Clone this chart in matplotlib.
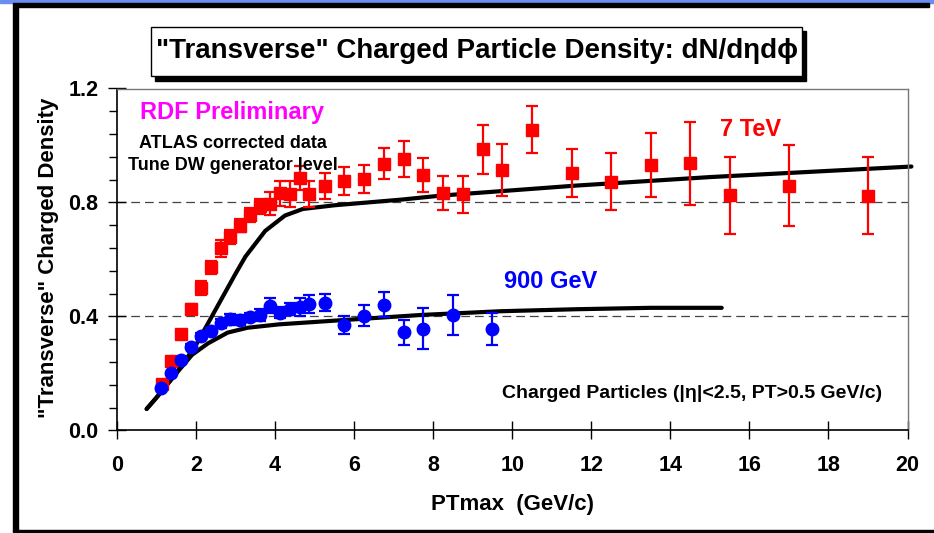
import numpy as np
import matplotlib
matplotlib.use("Agg")
import matplotlib.pyplot as plt
from matplotlib.patches import Rectangle
from matplotlib.ticker import MultipleLocator, FormatStrFormatter

plt.rcParams['font.family'] = ['Liberation Sans', 'DejaVu Sans']
plt.rcParams['font.weight'] = 'bold'

# 7 TeV data (red squares)
x_7tev = [1.13, 1.37, 1.62, 1.87, 2.12, 2.37, 2.62, 2.87, 3.12, 3.37, 3.62, 3.87,
          4.12, 4.37, 4.62, 4.87, 5.25, 5.75, 6.25, 6.75, 7.25, 7.75, 8.25, 8.75,
          9.25, 9.75, 10.5, 11.5, 12.5, 13.5, 14.5, 15.5, 17.0, 19.0]
y_7tev = [0.162, 0.245, 0.338, 0.425, 0.499, 0.573, 0.639, 0.678, 0.718, 0.756, 0.786, 0.796,
          0.832, 0.830, 0.886, 0.829, 0.859, 0.875, 0.883, 0.936, 0.953, 0.897, 0.833, 0.828,
          0.986, 0.914, 1.056, 0.903, 0.873, 0.931, 0.938, 0.825, 0.859, 0.824]
e_7tev = [0.010, 0.012, 0.015, 0.018, 0.025, 0.023, 0.030, 0.025, 0.023, 0.025, 0.025, 0.040,
          0.045, 0.045, 0.043, 0.045, 0.046, 0.048, 0.050, 0.054, 0.062, 0.060, 0.060, 0.064,
          0.086, 0.092, 0.083, 0.084, 0.099, 0.112, 0.146, 0.136, 0.143, 0.136]

# 900 GeV data (blue circles)
x_900 = [1.12, 1.37, 1.62, 1.87, 2.12, 2.37, 2.62, 2.87, 3.12, 3.37, 3.62, 3.87,
         4.12, 4.37, 4.62, 4.87, 5.25, 5.75, 6.25, 6.75, 7.25, 7.75, 8.5, 9.5]
y_900 = [0.147, 0.200, 0.247, 0.294, 0.330, 0.350, 0.375, 0.389, 0.387, 0.397, 0.404, 0.437,
         0.413, 0.426, 0.432, 0.444, 0.448, 0.370, 0.403, 0.441, 0.344, 0.357, 0.406, 0.356]
e_900 = [0.005, 0.006, 0.007, 0.008, 0.010, 0.010, 0.015, 0.020, 0.019, 0.015, 0.022, 0.026,
         0.020, 0.020, 0.032, 0.032, 0.030, 0.032, 0.038, 0.043, 0.044, 0.071, 0.070, 0.057]

# Tune DW curves
x_dw7 = [0.75, 1.0, 1.5, 2.0, 2.5, 3.0, 3.25, 3.75, 4.25, 4.7, 5.5, 7.2, 8.2, 11.6, 15.0, 20.1]
y_dw7 = [0.075, 0.115, 0.20, 0.30, 0.425, 0.55, 0.61, 0.70, 0.754, 0.777, 0.79, 0.81, 0.824, 0.859, 0.889, 0.926]
x_dw900 = [0.75, 1.0, 1.5, 1.9, 2.3, 2.8, 3.3, 4.1, 5.4, 7.7, 9.7, 11.6, 13.5, 15.3]
y_dw900 = [0.075, 0.115, 0.20, 0.265, 0.305, 0.343, 0.36, 0.372, 0.384, 0.405, 0.418, 0.425, 0.43, 0.43]

W, H = 934, 533
fig = plt.figure(figsize=(W / 100, H / 100), dpi=100)

def fx(px):
    return px / W

def fy(py):
    return 1 - py / H

# slide frame
fig.patches.append(Rectangle((0, fy(3)), 1, 3 / H, transform=fig.transFigure,
                             color='#6a8ef0', zorder=0))
fig.patches.append(Rectangle((fx(13), fy(7)), fx(929) - fx(13), 4 / H, transform=fig.transFigure,
                             color='black', zorder=0))
fig.patches.append(Rectangle((fx(13), fy(531)), 5 / W, fy(7) - fy(531), transform=fig.transFigure,
                             color='black', zorder=0))
fig.patches.append(Rectangle((fx(13), fy(532)), 1 - fx(13), 2 / H, transform=fig.transFigure,
                             color='black', zorder=0))

ax = fig.add_axes([fx(117), fy(430.3), fx(907.5) - fx(117), fy(88.5) - fy(430.3)])

ax.axhline(0.4, color='#444444', lw=0.9, dashes=(7, 4), zorder=1)
ax.axhline(0.8, color='#444444', lw=0.9, dashes=(7, 4), zorder=1)

ax.plot(x_dw7, y_dw7, color='black', lw=3, solid_capstyle='round', zorder=2, clip_on=False)
ax.plot(x_dw900, y_dw900, color='black', lw=3, solid_capstyle='round', zorder=2)

ax.errorbar(x_7tev, y_7tev, yerr=e_7tev, fmt='s', color='#ff0000', ms=8.3,
            elinewidth=1.6, capsize=4, capthick=1.6, zorder=3)
ax.errorbar(x_900, y_900, yerr=e_900, fmt='o', color='#0000ff', ms=9,
            elinewidth=1.6, capsize=4, capthick=1.6, zorder=4)

ax.set_xlim(0, 20)
ax.set_ylim(0, 1.2)
ax.xaxis.set_major_locator(MultipleLocator(2))
ax.yaxis.set_major_locator(MultipleLocator(0.4))
ax.yaxis.set_minor_locator(MultipleLocator(0.08))
ax.yaxis.set_major_formatter(FormatStrFormatter('%.1f'))
ax.tick_params(axis='both', which='major', direction='inout', length=13, width=1,
               labelsize=15.5)
ax.tick_params(axis='x', which='major', pad=11)
ax.tick_params(axis='y', which='major', pad=7)
ax.tick_params(axis='y', which='minor', direction='out', length=6, width=1)
for lab in ax.get_xticklabels() + ax.get_yticklabels():
    lab.set_fontweight('bold')

for s in ['left', 'bottom']:
    ax.spines[s].set_color('black')
    ax.spines[s].set_linewidth(1.2)
for s in ['top', 'right']:
    ax.spines[s].set_color('#777777')
    ax.spines[s].set_linewidth(1)

ax.set_xlabel('PTmax  (GeV/c)', fontsize=16, fontweight='bold')
ax.xaxis.set_label_coords(0.5, (430.3 - 505) / 342, transform=ax.transAxes)
ax.xaxis.label.set_va('center')
ax.set_ylabel('"Transverse" Charged Density', fontsize=16, fontweight='bold')
ax.yaxis.set_label_coords((49 - 117) / 790.5, 0.505)
ax.yaxis.label.set_va('center')

# annotations
fig.text(fx(140.5), fy(113), 'RDF Preliminary', color='#ff00ff', fontsize=17,
         fontweight='bold', ha='left', va='center')
fig.text(fx(232.5), fy(143), 'ATLAS corrected data', color='black', fontsize=13,
         fontweight='bold', ha='center', va='center')
fig.text(fx(232.5), fy(166), 'Tune DW generator level', color='black', fontsize=13,
         fontweight='bold', ha='center', va='center', zorder=5)
fig.text(fx(751), fy(130), '7 TeV', color='#ff0000', fontsize=17,
         fontweight='bold', ha='center', va='center')
fig.text(fx(550.5), fy(281), '900 GeV', color='#0000ff', fontsize=17,
         fontweight='bold', ha='center', va='center')
fig.text(fx(692), fy(394), 'Charged Particles (|η|<2.5, PT>0.5 GeV/c)', color='black',
         fontsize=14, fontweight='bold', ha='center', va='center')

# title box with shadow
fig.patches.append(Rectangle((fx(155), fy(80.5)), fx(806.5) - fx(155), fy(31) - fy(80.5),
                             transform=fig.transFigure, color='black', zorder=5))
fig.patches.append(Rectangle((fx(150.7), fy(76)), fx(802.3) - fx(150.7), fy(26.7) - fy(76),
                             transform=fig.transFigure, facecolor='white', edgecolor='black',
                             lw=1, zorder=6))
fig.text(fx(477), fy(51), '"Transverse" Charged Particle Density: dN/dηdϕ', color='black',
         fontsize=20, fontweight='bold', ha='center', va='center', zorder=7)

plt.savefig('out.png', dpi=100)
